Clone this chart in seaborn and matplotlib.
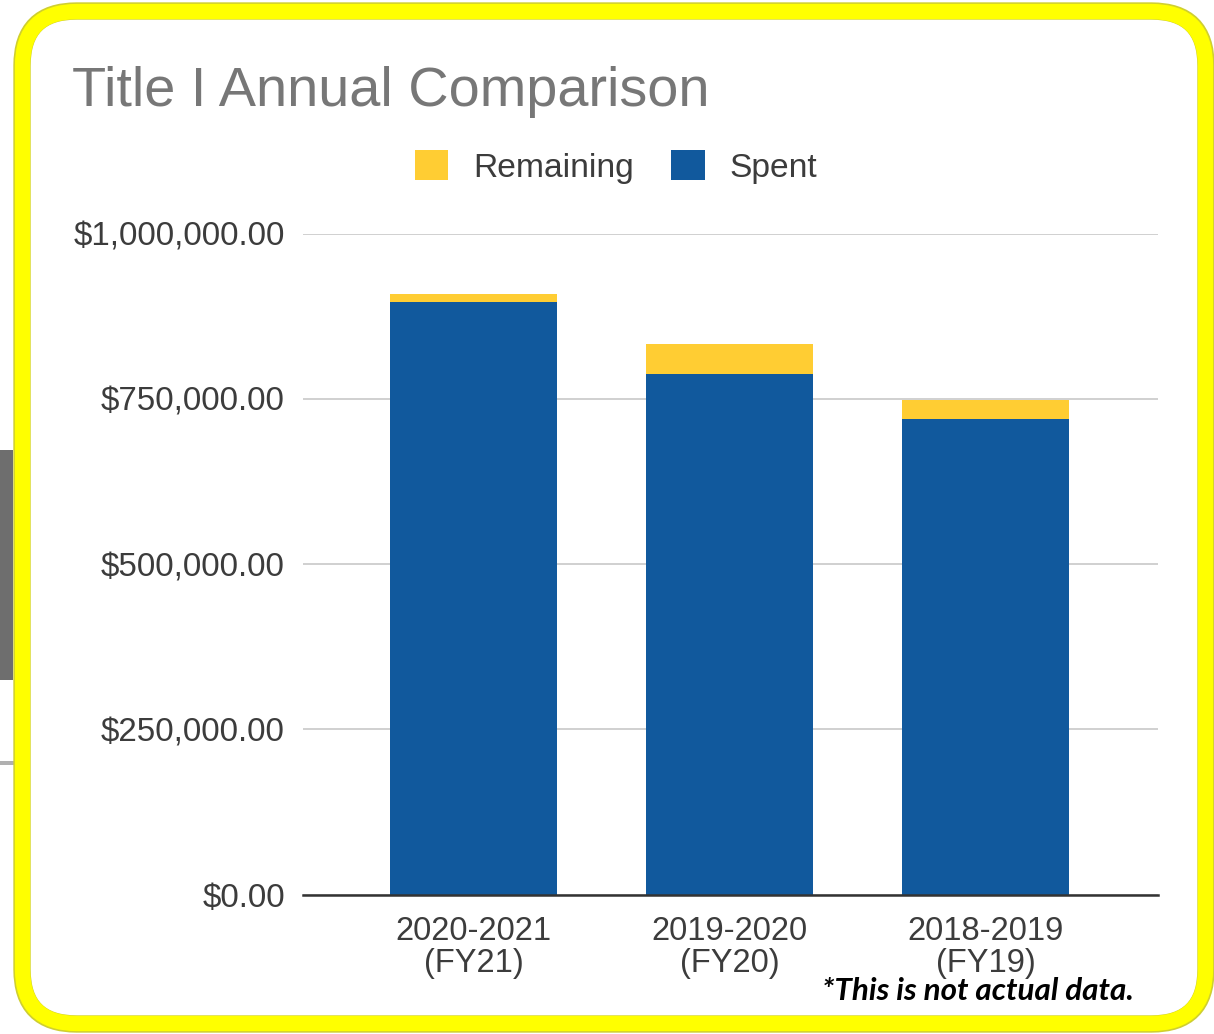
import matplotlib
matplotlib.use("Agg")
import matplotlib.pyplot as plt
import seaborn as sns
from matplotlib.patches import FancyBboxPatch, Rectangle, Patch
from matplotlib.ticker import FuncFormatter

# Fiscal years and amounts
categories = ["2020-2021\n(FY21)", "2019-2020\n(FY20)", "2018-2019\n(FY19)"]
spent = [897000, 787000, 720000]
remaining = [11500, 45500, 29000]
totals = [s + r for s, r in zip(spent, remaining)]

BLUE = "#11599D"
GOLD = "#FFCD33"
FRAME = "#FFFF00"

sns.set_theme(style="white")
plt.rcParams["font.family"] = ["Liberation Sans", "DejaVu Sans"]

fig = plt.figure(figsize=(12.14, 10.34), dpi=100)
W, H = 1214, 1034

# soft gray strip behind the frame on the left
fig.patches.append(Rectangle((0, 1 - 680 / H), 13 / W, 230 / H,
                             transform=fig.transFigure, facecolor="#555555",
                             edgecolor="none", alpha=0.85, zorder=0))
fig.patches.append(Rectangle((0, 1 - 765 / H), 14 / W, 4 / H,
                             transform=fig.transFigure, facecolor="#b0b0b0",
                             edgecolor="none", zorder=0))

# rounded yellow frame
box = dict(boxstyle="round,pad=0,rounding_size=0.045",
           transform=fig.transFigure, mutation_aspect=W / H)
frame = FancyBboxPatch((22 / W, 1 - 1024 / H), (1206 - 22) / W, (1024 - 11) / H,
                       facecolor="white", edgecolor="#cfcf30", linewidth=12.5,
                       zorder=1, **box)
fig.patches.append(frame)
frame2 = FancyBboxPatch((22.5 / W, 1 - 1023.5 / H), (1205.5 - 22.5) / W, (1023.5 - 11.5) / H,
                        facecolor="none", edgecolor=FRAME, linewidth=11,
                        zorder=1.1, **box)
fig.patches.append(frame2)

ax = fig.add_axes([303 / W, 1 - 894.7 / H, (1158 - 303) / W, (894.7 - 233.7) / H])
ax.set_zorder(2)
ax.patch.set_alpha(0)

sns.barplot(x=categories, y=totals, color=GOLD, width=0.65, ax=ax,
            saturation=1, edgecolor="none", zorder=3)
sns.barplot(x=categories, y=spent, color=BLUE, width=0.65, ax=ax,
            saturation=1, edgecolor="none", zorder=4)

ax.set_xlim(-0.666, 2.674)
ax.set_ylim(0, 1000000)
ax.set_yticks([0, 250000, 500000, 750000, 1000000])
ax.yaxis.set_major_formatter(FuncFormatter(lambda v, p: f"${v:,.2f}"))
ax.grid(axis="y", color="#d0d0d0", linewidth=1.4, zorder=0)
ax.set_axisbelow(True)
for s in ["top", "right", "left"]:
    ax.spines[s].set_visible(False)
ax.spines["bottom"].set_color("#333333")
ax.spines["bottom"].set_linewidth(1.8)
ax.spines["bottom"].set_zorder(5)
ax.tick_params(axis="both", length=0, labelcolor="#3c3c3c")
ax.tick_params(axis="y", pad=13, labelsize=23.9)
ax.tick_params(axis="x", pad=15, labelsize=23.5)
for t in ax.get_xticklabels():
    t.set_linespacing(1.08)
ax.set_xlabel("")
ax.set_ylabel("")

fig.text(72 / W, 1 - 106 / H, "Title I Annual Comparison", fontsize=40.2,
         color="#777777", ha="left", va="baseline", zorder=3)

handles = [Patch(facecolor=GOLD, edgecolor="none", label="Remaining"),
           Patch(facecolor=BLUE, edgecolor="none", label="Spent")]
fig.legend(handles=handles, loc="center", bbox_to_anchor=(616 / W, 1 - 167 / H),
           ncol=2, frameon=False, fontsize=24.2, labelcolor="#3c3c3c",
           handlelength=1.0, handleheight=1.0, handletextpad=0.75,
           columnspacing=1.1)

fig.text(822 / W, 1 - 1000 / H, "*This is not actual data.", fontsize=22.6,
         color="black", fontweight="bold", fontstyle="italic",
         family=["Lato", "DejaVu Sans"], ha="left", va="baseline", zorder=3)

fig.savefig("out.png", dpi=100, facecolor="white")
